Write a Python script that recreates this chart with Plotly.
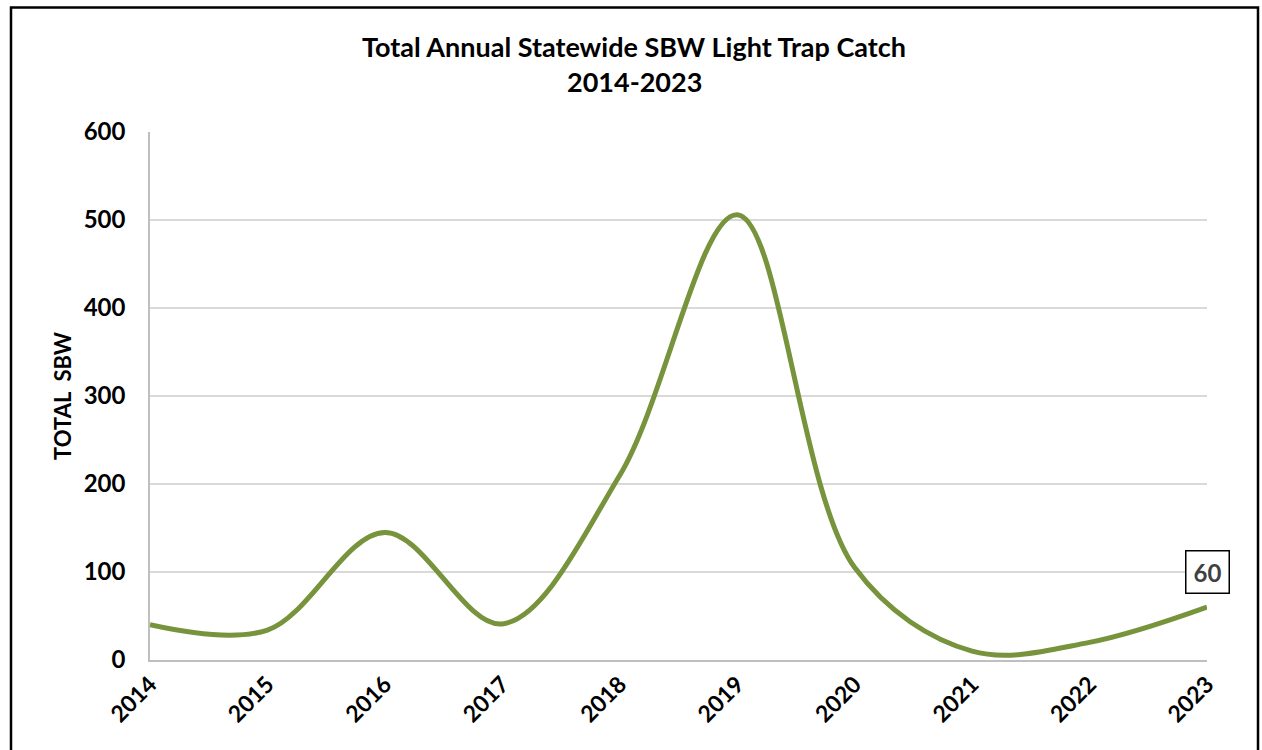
import plotly.graph_objects as go

# Total annual statewide spruce budworm light trap catch
years = ["2014", "2015", "2016", "2017", "2018", "2019", "2020", "2021", "2022", "2023"]
total_sbw = [40, 34, 145, 41, 210, 506, 105, 10, 20, 60]
y_ticks = [0, 100, 200, 300, 400, 500, 600]

FONT = "Lato"
LINE_GREEN = "#77933C"
GRID = "#d9d9d9"
AXIS = "#bfbfbf"

fig = go.Figure()
fig.add_trace(go.Scatter(
    x=years,
    y=total_sbw,
    mode="lines",
    line=dict(color=LINE_GREEN, width=5, shape="spline", smoothing=1.0),
    hoverinfo="x+y",
    showlegend=False,
))

# Data label on the latest year (right edge of the plot)
fig.add_annotation(
    xref="paper", yref="y",
    x=1.0, y=total_sbw[-1],
    text=f"<b>{total_sbw[-1]}</b>",
    showarrow=False,
    xanchor="center", yanchor="middle",
    yshift=35,
    font=dict(family=FONT, size=24, color="#404040"),
    bordercolor="#000000", borderwidth=1.5, borderpad=6,
    bgcolor="white",
    width=30,
)

# Two-line chart title
title_x = (634 - 150) / 1057
fig.add_annotation(
    xref="paper", yref="paper", x=title_x, y=(660 - 46) / 528,
    text="<b>Total Annual Statewide SBW Light Trap Catch</b>",
    showarrow=False, xanchor="center", yanchor="middle",
    font=dict(family=FONT, size=27, color="#000000"),
)
fig.add_annotation(
    xref="paper", yref="paper", x=title_x, y=(660 - 82) / 528,
    text="<b>2014-2023</b>",
    showarrow=False, xanchor="center", yanchor="middle",
    font=dict(family=FONT, size=27, color="#000000"),
)

# Chart frame
fig.add_shape(
    type="rect", xref="paper", yref="paper",
    x0=(11 - 150) / 1057, x1=(1258 - 150) / 1057,
    y0=-0.3, y1=(660 - 7.5) / 528,
    line=dict(color="#000000", width=2.5),
    layer="above",
)

fig.update_layout(
    width=1262, height=750,
    margin=dict(l=150, r=55, t=132, b=90),
    paper_bgcolor="white", plot_bgcolor="white",
    font=dict(family=FONT, color="#000000"),
    xaxis=dict(
        type="category",
        range=[0, len(years) - 1],
        showgrid=False,
        showline=True, linecolor=AXIS, linewidth=1.5,
        ticks="",
        tickangle=-45,
        tickfont=dict(family=FONT, size=23, color="#000000", weight="bold"),
        ticklabelstandoff=0,
        zeroline=False,
    ),
    yaxis=dict(
        range=[0, 600],
        tickvals=y_ticks,
        showgrid=True, gridcolor=GRID, gridwidth=1.5,
        showline=True, linecolor=AXIS, linewidth=1.5,
        zeroline=False,
        tickfont=dict(family=FONT, size=24, color="#000000", weight="bold"),
        ticklabelstandoff=18,
        title=dict(text="<b>TOTAL  SBW</b>", font=dict(family=FONT, size=22, color="#000000"), standoff=6),
    ),
)

fig.write_html("out.html")
